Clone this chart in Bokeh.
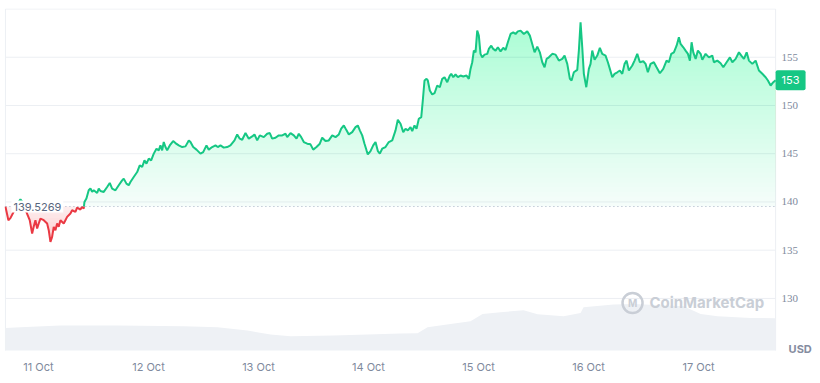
import numpy as np
import pandas as pd
from bokeh.plotting import figure
from bokeh.models import Range1d, Label, DatetimeTickFormatter, FixedTicker
from bokeh.embed import file_html
from bokeh.resources import INLINE

# ---------------- data ----------------
T0 = pd.Timestamp("2024-10-11 00:00")
baseline = 139.5269

hours = [
    -7.2, -6.55, -6.11, -5.45, -4.8, -3.93, -3.27, -2.62, -1.9, -1.37, -1.03, -0.65, -0.28, 0.07, 0.44,
    1.16, 1.9, 2.25, 2.62, 2.99, 3.34, 3.71, 4.08, 4.43, 4.8, 5.52, 5.89, 6.26, 6.98, 7.35, 8.07, 8.44,
    9.16, 9.53, 9.88, 10.04, 10.47, 10.97, 11.35, 11.72, 12.07, 12.81, 13.16, 13.53, 14.25, 14.99, 15.56,
    16.08, 16.8, 17.52, 18.26, 18.61, 19.2, 19.7,
    20.07, 20.79, 21.54, 22.10, 22.63, 23.13, 23.57, 24.07, 24.59, 25.16, 25.75, 26.25, 26.62, 26.99,
    27.34, 27.71, 28.08, 28.65, 29.39, 29.89, 30.61, 31.36, 32.08, 32.80, 33.17, 33.76, 34.48, 35.35,
    35.94, 36.66, 37.16, 37.90, 38.62, 39.12, 39.71, 40.43, 41.17, 41.89, 42.77, 43.36, 43.92, 44.45,
    45.17, 45.89, 46.63, 47.13, 47.72, 48.29,
    49.16, 49.90, 50.47, 50.99, 51.71, 52.43, 53.18, 53.90, 54.27, 54.99, 55.71, 56.30, 56.80, 57.32,
    57.89, 58.63, 59.35, 59.94, 60.66, 61.38, 61.90, 62.62, 63.34, 64.09, 64.81, 65.53, 66.05, 66.62,
    67.21, 67.71, 68.45, 69.17, 69.67, 70.11, 70.63, 71.13, 71.57, 71.85, 72.44, 73.03, 73.53, 74.04,
    74.47, 74.99, 75.71, 76.43, 77.18,
    77.90, 78.40, 78.99, 79.58, 80.08, 80.58, 81.17, 81.54, 82.04, 82.48, 82.98, 83.51, 83.85, 84.22,
    84.66, 84.94, 85.38, 85.90, 86.41, 86.99, 87.56, 88.09, 88.59, 89.18, 89.74, 90.05, 90.49, 90.99,
    91.49, 92.08, 92.67, 93.39, 93.89, 94.26, 94.63, 94.98, 95.35, 95.72, 96.07, 96.44, 96.81, 97.32,
    97.91, 98.25, 98.78, 99.21, 99.72, 100.22, 100.81, 101.40, 101.90, 102.40, 102.99, 103.58, 104.08, 104.58,
    105.17, 105.89, 106.63, 107.20, 107.72, 108.23, 108.82, 109.38, 109.91, 110.41, 110.85, 111.35,
    112.09, 112.81, 113.53, 114.27, 114.77, 115.36, 115.93, 116.30, 116.80, 117.54, 117.89, 118.26,
    118.63, 118.98, 119.51, 120.07, 120.44, 120.81, 121.32, 121.91, 122.47, 122.99, 123.71, 124.22,
    124.65, 125.18, 125.68, 126.27, 126.84, 127.36, 127.86, 128.30, 128.80, 129.54, 130.04, 130.63,
    131.20, 131.94, 132.44, 132.94,
    133.53, 134.25, 134.84, 135.56, 136.30, 137.02, 137.53, 138.05, 138.62, 139.21, 139.71, 140.08,
    140.67, 141.17, 141.68, 142.11, 142.48, 142.85, 143.36, 143.86, 144.45, 144.82, 145.54, 146.26,
    147.00, 147.35, 148.09, 148.81, 149.40, 150.12, 150.84, 151.37, 152.09, 152.81, 153.33, 153.90,
    154.49, 154.99, 155.73, 156.45, 157.17, 157.91, 158.63, 159.13, 159.72, 160.31, 160.81,
]

prices = [
    139.5269, 138.11, 138.32, 138.94, 139.66, 140.28, 139.87, 138.94, 138.11, 136.73, 137.42, 138.11, 137.25, 137.77, 138.28,
    138.11, 137.77, 137.07, 135.87, 136.38, 137.42, 137.07, 137.77, 137.42, 138.11, 137.77, 138.11, 138.45, 138.80, 139.14, 138.97, 139.42,
    139.21, 139.50, 139.32, 140.0, 140.35, 141.21, 141.39, 141.04, 141.21, 140.93, 141.39, 141.14, 141.04, 141.55, 141.97,
    141.39, 141.21, 141.73, 142.24, 142.42, 141.90, 141.73,
    142.07, 142.59, 143.10, 143.80, 143.62, 144.31, 143.97, 144.49, 144.31, 145.01, 145.52, 145.35, 145.86, 145.35,
    146.21, 145.69, 145.35, 145.86, 146.31, 146.10, 145.86, 145.69, 145.76, 146.38, 146.21, 145.69, 145.42, 145.01,
    145.17, 145.86, 145.42, 145.69, 145.86, 145.69, 145.86, 145.63, 145.69, 145.86, 146.38, 147.00, 146.56, 146.45,
    147.14, 146.56, 146.79, 147.00, 146.38, 146.90,
    146.72, 147.07, 147.14, 146.56, 146.66, 146.90, 146.90, 147.07, 146.72, 147.14, 146.90, 146.56, 147.07, 146.72,
    146.21, 146.04, 145.97, 145.42, 145.69, 146.04, 146.66, 146.31, 146.38, 146.90, 146.72, 147.00, 147.59, 147.93,
    147.42, 147.00, 147.24, 147.76, 147.93, 147.42, 146.90, 146.04, 145.35, 144.93, 145.27, 145.86, 146.21, 145.27,
    145.01, 145.52, 145.69, 146.21, 146.38,
    147.42, 148.52, 148.11, 147.24, 147.59, 147.42, 147.76, 147.34, 147.93, 147.59, 148.62, 148.79, 150.52, 152.59,
    152.76, 152.59, 151.55, 151.14, 151.27, 152.07, 151.89, 152.76, 152.93, 152.41, 153.10, 153.28, 152.93, 153.21,
    152.93, 153.10, 153.00, 153.10, 152.76, 153.79, 154.48, 155.69, 155.51, 157.76, 157.24, 155.35, 154.99, 155.27,
    155.35, 155.86, 156.20, 155.86, 155.69, 156.03, 155.61, 155.97, 155.76, 156.55, 157.41, 157.58, 157.41, 157.68,
    157.76, 157.41, 157.68, 157.24, 156.38, 155.51, 156.10, 155.51, 154.48, 153.96, 154.83, 154.99,
    155.35, 155.27, 154.65, 154.83, 155.17, 154.31, 152.76, 152.59, 153.44, 153.69, 155.69, 158.61,
    156.03, 153.28, 151.89, 153.79, 154.31, 155.69, 154.73, 155.17, 155.97, 155.35, 155.17, 154.48,
    153.79, 152.93, 153.28, 153.44, 153.62, 153.28, 154.31, 154.65, 153.62, 154.14, 154.65, 155.35,
    154.48, 154.58, 154.31, 153.44,
    154.31, 154.48, 153.96, 153.34, 153.79, 154.65, 154.48, 155.35, 155.51, 156.20, 157.06, 156.38,
    156.03, 155.69, 155.35, 154.65, 156.55, 155.51, 154.83, 155.69, 155.35, 154.73, 155.35, 154.99,
    155.17, 154.48, 154.65, 154.37, 153.96, 154.48, 154.99, 154.48, 154.83, 155.51, 155.17, 154.83,
    155.51, 154.65, 154.31, 154.65, 153.62, 153.28, 152.93, 152.59, 152.07, 152.41, 152.62,
]

vol_hours = [-7.2, -3.93, 4.8, 17.24, 31.64, 39.06, 45.6, 50.62, 54.99, 64.37, 71.79, 78.99, 82.7,
             84.88, 89.9, 94.26, 96.88, 100.81, 105.83, 108.88, 114.56, 118.26, 118.91, 125.46,
             129.82, 140.73, 144.45, 148.16, 155.36, 160.81]
vol_bn = [2.26, 2.33, 2.50, 2.50, 2.43, 2.33, 2.00, 1.60, 1.43, 1.50, 1.60, 1.70, 1.73,
          2.33, 2.66, 2.93, 3.66, 3.83, 4.03, 3.63, 3.43, 3.76, 4.33, 4.60,
          4.66, 4.43, 3.66, 3.43, 3.26, 3.23]

y_ticks = [130, 135, 140, 145, 150, 155]
tick_days = ["2024-10-11", "2024-10-12", "2024-10-13", "2024-10-14",
             "2024-10-15", "2024-10-16", "2024-10-17"]

# ---------------- helpers ----------------
GREEN = "#16c784"
RED = "#ea3943"
GRAY = "#808a9d"
LINE = "#eceff3"
FONT = "Inter"
H = 3600e3

t0ms = T0.value / 1e6
x = t0ms + np.array(hours) * H
y = np.array(prices, dtype=float)
vx = t0ms + np.array(vol_hours) * H
vy = np.array(vol_bn)
tick_ms = [pd.Timestamp(d).value / 1e6 for d in tick_days]


def split_at(xa, ya, b):
    xs, ys = [xa[0]], [ya[0]]
    for i in range(1, len(xa)):
        y0, y1 = ya[i - 1], ya[i]
        if (y0 - b) * (y1 - b) < 0:
            f = (b - y0) / (y1 - y0)
            xs.append(xa[i - 1] + f * (xa[i] - xa[i - 1]))
            ys.append(b)
        xs.append(xa[i])
        ys.append(ya[i])
    return np.array(xs), np.array(ys)


xs, ys = split_at(x, y, baseline)
y_green = np.where(ys >= baseline - 1e-9, ys, np.nan)
y_red = np.where(ys <= baseline + 1e-9, ys, np.nan)

data_start = x[0]
data_end = x[-1]
x_start = data_start - 0.2 * H
x_end = data_start + 177.8 * H   # extra room at the right for the price scale
price_floor = 124.6               # bottom of the price area
y_lo, y_hi = 124.19, 160.05
y_top_line = 160.0

p = figure(
    width=820, height=380,
    x_axis_type="datetime",
    x_range=Range1d(x_start, x_end),
    y_range=Range1d(y_lo, y_hi),
    output_backend="svg", toolbar_location=None,
    min_border_left=4, min_border_top=8, min_border_right=0, min_border_bottom=26,
    background_fill_color="white", border_fill_color="white",
    outline_line_color=None,
)
p.yaxis.visible = False
p.extra_y_ranges = {"vol": Range1d(-0.4, 34.2)}

# grid lines and frame of the price area
n = len(y_ticks)
p.segment(x0=[data_start] * n, x1=[data_end] * n, y0=y_ticks, y1=y_ticks, line_color=LINE, line_width=1)
p.segment(x0=[data_start, data_start, data_end], x1=[data_end, data_start, data_end],
          y0=[y_top_line, price_floor, price_floor], y1=[y_top_line, y_top_line, y_top_line],
          line_color=LINE, line_width=1)

# volume
p.varea(x=vx, y1=0, y2=vy, y_range_name="vol", fill_color="#eef1f5", fill_alpha=1.0)

# green gradient (stacked translucent layers)
for k, lvl in enumerate(baseline + np.arange(0, 21, 0.5)):
    a = 0.045 if k == 0 else 0.0075
    p.varea(x=xs, y1=lvl, y2=np.maximum(ys, lvl), fill_color=GREEN, fill_alpha=a)

# red gradient
for k, lvl in enumerate(baseline - np.arange(0, 4.2, 0.4)):
    a = 0.09 if k == 0 else 0.02
    p.varea(x=xs, y1=np.minimum(ys, lvl), y2=lvl, fill_color=RED, fill_alpha=a)

p.line(xs, y_green, line_color=GREEN, line_width=2)
p.line(xs, y_red, line_color=RED, line_width=2)

# baseline dotted line
p.segment(x0=[data_start], x1=[data_end], y0=[baseline], y1=[baseline],
          line_color="#a6b0c3", line_dash="1 3", line_width=1)

# price scale labels on the right
p.text(x=[data_end] * n, y=y_ticks, text=[str(t) for t in y_ticks],
       x_offset=6, text_font="Inter", text_font_size="11px", text_color=GRAY,
       text_align="left", text_baseline="middle")

# baseline label
p.add_layout(Label(x=data_start, y=baseline, x_offset=6, text=f"{baseline:.4f}",
                   text_font=FONT, text_font_size="11px", text_color="#58667e",
                   text_baseline="middle", text_align="left",
                   background_fill_color="white", background_fill_alpha=1.0, padding=2))

# last price tag
p.add_layout(Label(x=data_end, y=y[-1], x_offset=0, text=f"{round(prices[-1])}",
                   text_font=FONT, text_font_size="11px", text_color="white",
                   text_baseline="middle", text_align="left",
                   background_fill_color=GREEN, background_fill_alpha=1.0,
                   padding=6, border_radius=2))

# USD
p.add_layout(Label(x=data_end, y=price_floor, x_offset=13, y_offset=2, text="USD",
                   text_font=FONT, text_font_size="11px", text_font_style="bold",
                   text_color="#858ca0", text_baseline="alphabetic", text_align="left"))

# watermark
wm_x = t0ms + 145.8 * H
logo_x = t0ms + 129.6 * H
p.add_layout(Label(x=wm_x, y=129.53, text="CoinMarketCap", text_font=FONT,
                   text_font_size="15px", text_font_style="bold", text_color="#c9ced6",
                   text_align="center", text_baseline="middle"))
p.scatter([logo_x], [129.53], size=20, marker="circle", fill_color=None,
          line_color="#c9ced6", line_width=2.5)
p.add_layout(Label(x=logo_x, y=129.53, text="M", text_font=FONT,
                   text_font_size="10px", text_font_style="bold", text_color="#c9ced6",
                   text_align="center", text_baseline="middle"))

# x axis
xa = p.xaxis[0]
xa.ticker = FixedTicker(ticks=tick_ms)
xa.formatter = DatetimeTickFormatter(days="%d %b", hours="%d %b", months="%d %b")
xa.axis_line_color = None
xa.major_tick_line_color = None
xa.minor_tick_line_color = None
xa.major_tick_out = 0
xa.major_label_standoff = 5
xa.major_label_text_font = FONT
xa.major_label_text_font_size = "11px"
xa.major_label_text_color = GRAY

p.xgrid.grid_line_color = None
p.ygrid.grid_line_color = None

open("out.html", "w").write(file_html(p, INLINE))
